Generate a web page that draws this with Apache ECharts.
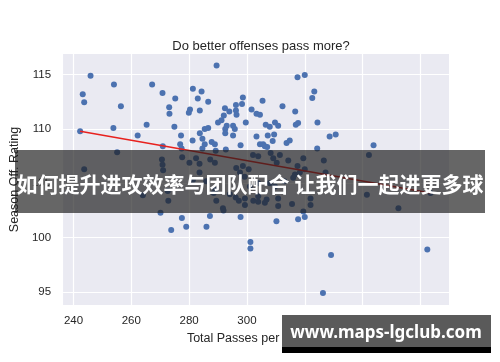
<!DOCTYPE html>
<html>
<head>
<meta charset="utf-8">
<script src="https://cdn.jsdelivr.net/npm/echarts@6/dist/echarts.min.js"></script>
<style>html,body{margin:0;padding:0;background:#fff;}#c{width:500px;height:362px;}</style>
</head>
<body>
<div id="c"></div>
<script>
var titleText = 'Do better offenses pass more?';
var xName = 'Total Passes per Season';
var yName = 'Season Off. Rating';
var bannerText = '如何提升进攻效率与团队配合 让我们一起进更多球';
var watermarkText = 'www.maps-lgclub.com';
var xTicks = [240, 260, 280, 300, 320, 340, 360];
var yTicks = [95, 100, 105, 110, 115];
var xRange = [236.4, 369.9];
var yRange = [93.8, 116.9];

var passesX = [
 245.9,243.2,243.7,254.0,256.4,267.2,270.8,275.2,273.1,273.2,281.3,280.3,279.9,242.3,253.8,265.3,262.2,274.9,277.2,276.9,
 277.4,270.9,281.2,289.5,317.5,320.0,323.3,322.6,284.3,283.0,286.6,283.7,298.6,298.3,305.4,312.3,296.2,296.2,296.4,292.4,
 293.9,292.0,301.6,303.3,304.5,316.7,324.4,291.2,290.0,292.5,293.0,292.5,299.6,306.5,307.9,309.7,310.8,316.9,317.7,295.2,
 295.8,285.4,286.6,283.7,284.6,303.3,307.2,309.4,308.9,304.5,305.6,307.0,313.7,314.8,297.8,295.2,287.8,288.9,285.4,284.6,
 289.2,292.7,324.3,328.6,330.7,343.8,
 255.1,243.7,270.6,270.8,271.0,272.6,272.8,264.0,277.6,280.1,282.4,283.6,287.3,288.9,296.3,298.6,300.6,297.6,299.2,283.6,
 285.9,281.3,289.1,289.4,291.7,291.9,288.5,294.1,296.1,297.2,299.3,299.3,302.2,303.9,303.9,306.2,306.8,310.8,310.8,315.6,
 322.0,322.0,314.3,317.5,318.3,320.0,319.5,309.1,310.3,311.4,308.2,306.2,302.1,303.9,326.6,327.2,342.2,341.5,352.4,363.5,
 316.0,316.6,307.9,309.7,301.0,303.9,312.9,
 270.1,277.5,279.0,273.8,286.0,287.2,297.8,301.2,301.2,310.2,317.7,320.0,319.5,329.1,362.4,326.3
];
var ratingY = [
 114.9,113.2,112.45,114.1,112.1,114.1,113.3,112.8,112.0,111.4,113.7,111.8,111.5,109.8,110.1,110.4,109.4,110.2,109.4,108.6,
 108.2,108.4,108.95,115.85,114.75,114.97,113.46,112.85,113.46,112.8,112.5,111.7,112.9,112.3,112.6,112.1,112.2,111.7,111.3,111.9,
 111.6,111.25,111.8,111.4,111.3,111.6,110.6,110.8,110.6,110.0,110.3,109.6,110.6,110.4,110.2,110.6,110.3,110.4,110.55,110.3,
 110.0,110.0,110.1,109.6,109.1,109.3,109.4,109.5,108.9,108.6,108.6,108.35,108.7,108.95,108.5,109.4,108.8,108.6,108.6,108.2,
 108.0,108.1,108.2,109.3,109.5,108.5,
 107.85,106.3,107.2,106.7,106.2,104.3,103.4,103.9,107.4,106.9,107.3,106.8,107.2,106.9,106.4,106.6,106.3,106.0,105.6,106.0,
 105.2,105.3,104.4,103.4,102.7,102.5,104.1,104.0,103.7,103.4,103.6,103.0,103.4,103.3,103.8,103.2,103.5,103.6,102.9,103.1,
 103.6,103.0,107.1,106.6,106.0,106.3,107.3,107.3,106.9,107.6,107.8,108.4,107.6,107.5,107.1,106.0,107.6,103.95,102.7,104.1,
 105.5,105.8,105.0,104.7,104.7,105.0,105.2,
 102.3,101.8,101.0,100.7,101.0,102.0,101.9,99.6,99.0,101.5,101.7,101.9,102.4,98.4,98.9,94.9
];
var fitX = [242.3, 363.5];
var fitY = [109.8, 104.1];

var points = passesX.map(function (x, i) { return [x, ratingY[i]]; });
var fitLine = fitX.map(function (x, i) { return [x, fitY[i]]; });

var chart = echarts.init(document.getElementById('c'), null, {renderer: 'canvas'});
var txtColor = '#262626';
var font = 'Liberation Sans, Arial, sans-serif';
chart.setOption({
  animation: false,
  backgroundColor: '#ffffff',
  title: {
    text: titleText, left: 256, top: 35, textAlign: 'center',
    textStyle: {fontFamily: font, fontSize: 13, fontWeight: 'normal', color: txtColor}
  },
  grid: {left: 63, right: 51, top: 54, bottom: 57, show: true, backgroundColor: '#EAEAF2', borderWidth: 0},
  xAxis: {
    type: 'value', min: xRange[0], max: xRange[1],
    name: xName, nameLocation: 'middle', nameGap: 26,
    nameTextStyle: {fontFamily: font, fontSize: 12.5, color: txtColor},
    axisLine: {show: false},
    axisTick: {show: false, customValues: xTicks},
    axisLabel: {customValues: xTicks, margin: 10, fontFamily: font, fontSize: 11.5, color: txtColor},
    splitLine: {show: true, lineStyle: {color: '#ffffff', width: 1.2}}
  },
  yAxis: {
    type: 'value', min: yRange[0], max: yRange[1],
    name: yName, nameLocation: 'middle', nameGap: 37, nameRotate: 90,
    nameTextStyle: {fontFamily: font, fontSize: 12.5, color: txtColor},
    axisLine: {show: false},
    axisTick: {show: false, customValues: yTicks},
    axisLabel: {customValues: yTicks, margin: 12, fontFamily: font, fontSize: 11.5, color: txtColor},
    splitLine: {show: true, lineStyle: {color: '#ffffff', width: 1.2}}
  },
  series: [
    {type: 'scatter', data: points, symbolSize: 6, itemStyle: {color: '#4C72B0', opacity: 1}, z: 2},
    {type: 'line', data: fitLine, symbol: 'none', lineStyle: {color: '#E8211E', width: 1.5}, z: 3}
  ],
  graphic: [
    {type: 'rect', z: 100, shape: {x: 15, y: 150, width: 470, height: 63}, style: {fill: 'rgba(30,30,30,0.68)'}},
    {type: 'text', z: 101, x: 250, y: 184, style: {text: bannerText, fill: '#ffffff', font: 'bold 21px "Noto Sans CJK SC", sans-serif', align: 'center', verticalAlign: 'middle'}},
    {type: 'rect', z: 100, shape: {x: 282, y: 315, width: 209, height: 32}, style: {fill: '#5a5a5a'}},
    {type: 'rect', z: 100, shape: {x: 282, y: 347, width: 209, height: 6}, style: {fill: '#000000'}},
    {type: 'text', z: 101, x: 386, y: 333, style: {text: watermarkText, fill: '#ffffff', font: 'bold 17px "Noto Sans", sans-serif', align: 'center', verticalAlign: 'middle'}}
  ]
});
</script>
</body>
</html>
